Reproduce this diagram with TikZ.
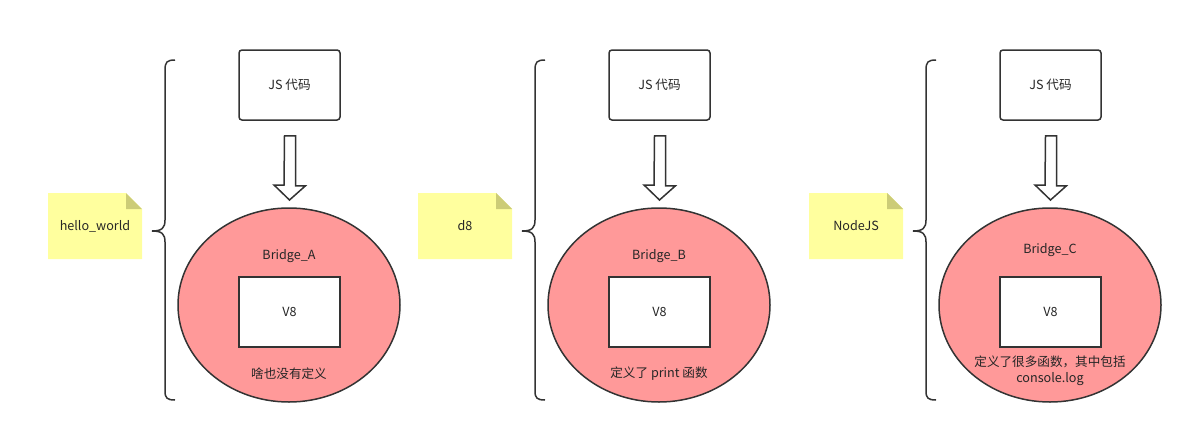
\documentclass[tikz,border=0pt]{standalone}
\usepackage{fontspec}
\setmainfont{Noto Sans CJK SC}
\usetikzlibrary{calc}
\definecolor{lineC}{HTML}{333333}
\definecolor{noteY}{HTML}{FFFF9E}
\definecolor{foldY}{HTML}{CCCC77}
\definecolor{bridgeR}{HTML}{FF9999}
\tikzset{
  lbl/.style={font=\fontsize{12.6}{15}\selectfont, text=black!85, inner sep=0pt, align=center},
  jsbox/.style={draw=lineC, line width=1.5pt, rounded corners=3pt, fill=white},
  v8box/.style={draw=lineC, line width=2pt, fill=white},
  bridge/.style={draw=lineC, line width=1.5pt, fill=bridgeR},
  brace/.style={draw=lineC, line width=1.5pt},
  blockarrow/.style={draw=lineC, line width=1.5pt, fill=white, line join=miter},
}
\begin{document}
\begin{tikzpicture}[x=1pt,y=-1pt]
\useasboundingbox (0,0) rectangle (1193,434);
\foreach \p/\dx/\env/\bry/\bottxt/\boty in {
  A/0/{hello\_world}/256/{啥也没有定义}/374,
  B/370/{d8}/256/{定义了 print 函数}/374,
  C/761/{NodeJS}/250/{定义了很多函数，其中包括\\console.log}/371}{
 \begin{scope}[xshift=\dx pt]
  % note
  \fill[noteY] (48,193) -- (126,193) -- (142,209) -- (142,259) -- (48,259) -- cycle;
  \fill[foldY] (126,193) -- (126,209) -- (142,209) -- cycle;
  \node[lbl] (note\p) at (95,226) {\env};
  % brace
  \draw[brace] (175,60) .. controls (167,60) and (165,62) .. (165,70)
     -- (165,220) .. controls (165,228) and (162,231) .. (152,231)
     .. controls (162,231) and (165,234) .. (165,242)
     -- (165,391) .. controls (165,398) and (167,400) .. (175,400);
  \coordinate (brace\p) at (152,231);
  % JS box
  \node[jsbox, minimum width=101pt, minimum height=70pt] (js\p) at (289.5,85) {};
  \node[lbl] (jst\p) at (js\p) {JS 代码};
  % bridge ellipse
  \draw[bridge] (289,305) ellipse [x radius=111, y radius=97];
  \coordinate (br\p) at (289,208);
  \node[lbl] (brt\p) at (289,\bry) {Bridge\_\p};
  \node[v8box, minimum width=101pt, minimum height=70pt] (v8\p) at (289.5,312) {};
  \node[lbl] (v8t\p) at (v8\p) {V8};
  \node[lbl, font=\fontsize{12.6}{16}\selectfont] (bot\p) at (289,\boty) {\bottxt};
  % block arrow from JS box to bridge
  \draw[blockarrow] ($(js\p.south)+(-5,15)$) -- ++(11,0) -- ++(0,50) -- ++(10,0)
     -- ($(br\p)+(0.5,-8)$) -- ++(-15.5,-15) -- ++(10,0) -- cycle;
 \end{scope}
}
\end{tikzpicture}
\end{document}
